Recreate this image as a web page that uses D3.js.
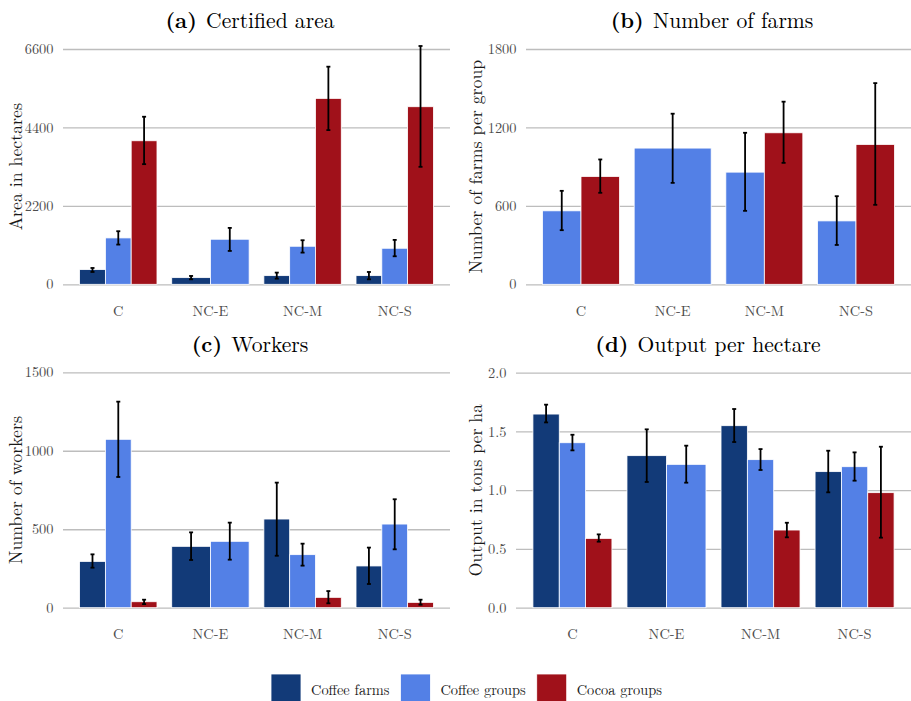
<!DOCTYPE html>
<html>
<head>
<meta charset="utf-8">
<script src="https://cdn.jsdelivr.net/npm/d3@7"></script>
<style>
  html, body { margin: 0; padding: 0; background: #ffffff; }
  svg { display: block; font-family: "Latin Modern Roman", "CMU Serif", "Liberation Serif", serif; }
</style>
</head>
<body>
<svg id="chart" width="911" height="701"></svg>
<script>
const FONT = "'Latin Modern Roman', 'CMU Serif', 'Liberation Serif', serif";

// Regions and series
const categories = ["C", "NC-E", "NC-M", "NC-S"];
const seriesNames = ["Coffee farms", "Coffee groups", "Cocoa groups"];
const seriesColors = ["#123a78", "#5380e6", "#a0111a"];

// Each entry: [mean, lower, upper]; null = no observation for that region
// (a) Certified area, hectares
const areaCoffeeFarms  = [[412, 346, 458], [187, 140, 234], [243, 159, 328], [243, 140, 346]];
const areaCoffeeGroups = [[1301, 1114, 1489], [1264, 936, 1582], [1067, 889, 1236], [1011, 786, 1245]];
const areaCocoaGroups  = [[4026, 3370, 4700], null, [5215, 4325, 6104], [4981, 3295, 6684]];
const areaTicks = [0, 2200, 4400, 6600];

// (b) Number of farms per group
const farmsCoffeeFarms  = [null, null, null, null];
const farmsCoffeeGroups = [[562, 414, 715], [1042, 776, 1305], [858, 562, 1159], [485, 301, 674]];
const farmsCocoaGroups  = [[825, 700, 955], null, [1159, 929, 1397], [1070, 608, 1539]];
const farmsTicks = [0, 600, 1200, 1800];

// (c) Number of workers
const workersCoffeeFarms  = [[295, 255, 340], [391, 304, 480], [565, 331, 797], [266, 151, 383]];
const workersCoffeeGroups = [[1073, 833, 1313], [423, 306, 542], [338, 268, 408], [533, 372, 691]];
const workersCocoaGroups  = [[38, 23, 51], null, [66, 28, 106], [34, 19, 51]];
const workersTicks = [0, 500, 1000, 1500];

// (d) Output in tons per hectare
const outputCoffeeFarms  = [[1.648, 1.577, 1.728], [1.294, 1.070, 1.518], [1.549, 1.410, 1.691], [1.158, 0.982, 1.336]];
const outputCoffeeGroups = [[1.404, 1.339, 1.472], [1.220, 1.064, 1.379], [1.260, 1.172, 1.350], [1.200, 1.081, 1.322]];
const outputCocoaGroups  = [[0.590, 0.562, 0.624], null, [0.661, 0.599, 0.723], [0.979, 0.596, 1.370]];
const outputTicks = [0, 0.5, 1.0, 1.5, 2.0];

const panels = [
  { tag: "(a)", title: "Certified area", yTitle: "Area in hectares",
    series: [areaCoffeeFarms, areaCoffeeGroups, areaCocoaGroups], ticks: areaTicks, fmt: d3.format("d"),
    x0: 63, x1: 450, yBottom: 284.3, yTop: 49, titleY: 28, titleX: 250, yTitleX: 21.5, catY: 316 },
  { tag: "(b)", title: "Number of farms", yTitle: "Number of farms per group",
    series: [farmsCoffeeFarms, farmsCoffeeGroups, farmsCocoaGroups], ticks: farmsTicks, fmt: d3.format("d"),
    x0: 526, x1: 911, yBottom: 284.3, yTop: 49, titleY: 28, titleX: 712, yTitleX: 481.5, catY: 316 },
  { tag: "(c)", title: "Workers", yTitle: "Number of workers",
    series: [workersCoffeeFarms, workersCoffeeGroups, workersCocoaGroups], ticks: workersTicks, fmt: d3.format("d"),
    x0: 63, x1: 450, yBottom: 607.7, yTop: 372.3, titleY: 352, titleX: 250, yTitleX: 21.5, catY: 639 },
  { tag: "(d)", title: "Output per hectare", yTitle: "Output in tons per ha",
    series: [outputCoffeeFarms, outputCoffeeGroups, outputCocoaGroups], ticks: outputTicks, fmt: d3.format(".1f"),
    x0: 516, x1: 911, yBottom: 607.7, yTop: 372.7, titleY: 352, titleX: 708, yTitleX: 481.5, catY: 639 }
];

const svg = d3.select("#chart");

panels.forEach(p => {
  const g = svg.append("g");
  const yMax = p.ticks[p.ticks.length - 1];
  const y = d3.scaleLinear().domain([0, yMax]).range([p.yBottom, p.yTop]);
  const x = d3.scaleBand().domain(categories).range([p.x0, p.x1])
    .paddingInner(0.16).paddingOuter(0.18);

  // horizontal gridlines + tick labels
  const yAxis = d3.axisLeft(y).tickValues(p.ticks).tickFormat(p.fmt)
    .tickSize(-(p.x1 - p.x0)).tickPadding(9.5);
  const ya = g.append("g").attr("transform", `translate(${p.x0},0)`).call(yAxis);
  ya.attr("font-family", null).attr("font-size", null);
  ya.select(".domain").remove();
  ya.selectAll(".tick line").attr("stroke", "#bdbdbd").attr("stroke-width", 1.3);
  ya.selectAll(".tick text").attr("fill", "#4d4d4d")
    .style("font-family", FONT).style("font-size", "14.4px");

  // category labels
  const xAxis = d3.axisBottom(x).tickSize(0).tickPadding(0);
  const xa = g.append("g").attr("transform", `translate(0,${p.catY})`).call(xAxis);
  xa.attr("font-family", null).attr("font-size", null);
  xa.select(".domain").remove();
  xa.selectAll(".tick text").attr("dy", 0).attr("fill", "#4d4d4d")
    .style("font-family", FONT).style("font-size", "14.4px");

  // bars and error bars, dodged among the series present in each region
  categories.forEach((cat, ci) => {
    const present = [];
    p.series.forEach((s, si) => { if (s[ci]) present.push(si); });
    const inner = d3.scaleBand().domain(present).range([x(cat), x(cat) + x.bandwidth()]);
    present.forEach(si => {
      const [m, lo, hi] = p.series[si][ci];
      const bx = inner(si), bw = inner.bandwidth();
      g.append("rect")
        .attr("x", bx).attr("width", bw)
        .attr("y", y(m)).attr("height", y(0) - y(m))
        .attr("fill", seriesColors[si])
        .attr("stroke", "#ffffff").attr("stroke-width", 0.8);
      const cx = bx + bw / 2;
      const eb = g.append("g").attr("stroke", "#000000").attr("stroke-width", 1.8);
      eb.append("line").attr("x1", cx).attr("x2", cx).attr("y1", y(lo)).attr("y2", y(hi));
      eb.append("line").attr("x1", cx - 2).attr("x2", cx + 2).attr("y1", y(lo)).attr("y2", y(lo));
      eb.append("line").attr("x1", cx - 2).attr("x2", cx + 2).attr("y1", y(hi)).attr("y2", y(hi));
    });
  });

  // y axis title
  g.append("text")
    .attr("transform", `translate(${p.yTitleX},${(p.yBottom + p.yTop) / 2}) rotate(-90)`)
    .attr("text-anchor", "middle")
    .attr("fill", "#1a1a1a")
    .style("font-family", FONT).style("font-size", "17.8px")
    .text(p.yTitle);

  // panel title
  const t = g.append("text")
    .attr("x", p.titleX).attr("y", p.titleY)
    .attr("text-anchor", "middle").attr("fill", "#000000")
    .style("font-family", FONT).style("font-size", "21.6px");
  t.append("tspan").attr("font-weight", "bold").text(p.tag);
  t.append("tspan").attr("dx", 2).text(" " + p.title);
});

// legend
const legend = svg.append("g");
let lx = 271;
seriesNames.forEach((name, i) => {
  legend.append("rect")
    .attr("x", lx).attr("y", 674).attr("width", 30).attr("height", 30)
    .attr("fill", seriesColors[i]).attr("stroke", "#ffffff").attr("stroke-width", 0.8);
  const txt = legend.append("text")
    .attr("x", lx + 40).attr("y", 695)
    .attr("fill", "#1a1a1a")
    .style("font-family", FONT).style("font-size", "14.4px")
    .text(name);
  lx += 40 + txt.node().getComputedTextLength() + 11;
});
</script>
</body>
</html>
